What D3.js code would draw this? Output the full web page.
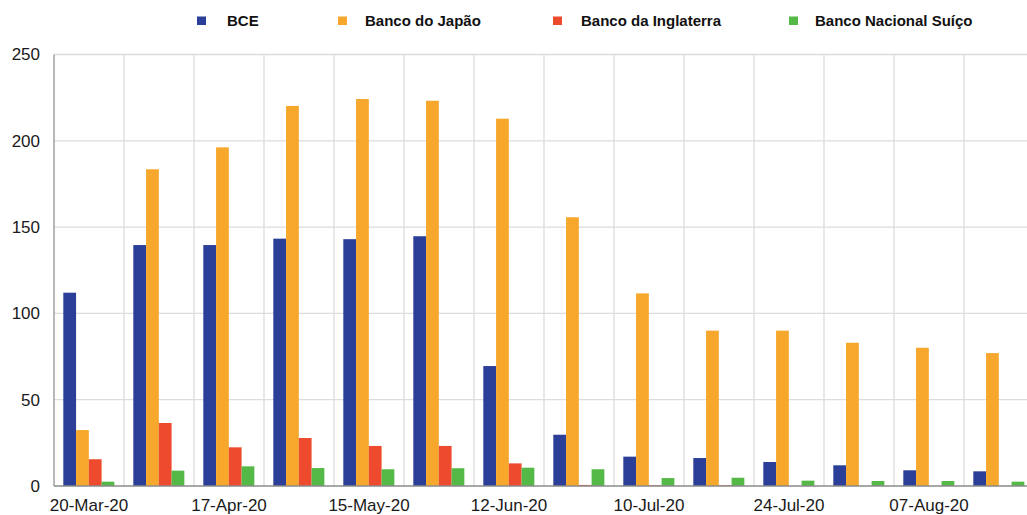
<!DOCTYPE html>
<html>
<head>
<meta charset="utf-8">
<script src="https://cdnjs.cloudflare.com/ajax/libs/d3/7.8.5/d3.min.js"></script>
<style>
  html, body { margin: 0; padding: 0; background: #fff; overflow: hidden; }
  svg { display: block; font-family: "Liberation Sans", Arial, Helvetica, sans-serif; }
</style>
</head>
<body>
<svg id="chart" width="1027" height="515"></svg>
<script>
const categories = ["20-Mar-20","03-Apr-20","17-Apr-20","01-May-20","15-May-20","29-May-20","12-Jun-20","26-Jun-20","10-Jul-20","17-Jul-20","24-Jul-20","31-Jul-20","07-Aug-20","14-Aug-20"];
const tickLabels = ["20-Mar-20","17-Apr-20","15-May-20","12-Jun-20","10-Jul-20","24-Jul-20","07-Aug-20"];
const seriesNames = ["BCE","Banco do Japão","Banco da Inglaterra","Banco Nacional Suíço"];
const seriesColors = ["#2b3f98","#f6a72c","#ee4a2e","#55b948"];
const bce      = [112, 139.6, 139.6, 143.3, 143, 144.7, 69.5, 29.7, 17, 16.2, 13.9, 12, 9.1, 8.5];
const japao    = [32.4, 183.5, 196.2, 220.2, 224.2, 223.2, 212.8, 155.7, 111.6, 90, 90, 83, 80.1, 77];
const inglaterra = [15.5, 36.5, 22.4, 27.8, 23.2, 23.2, 13.1, 0.6, 0.4, 0.4, 0, 0, 0, 0];
const suico    = [2.5, 8.9, 11.4, 10.4, 9.7, 10.3, 10.6, 9.7, 4.6, 4.8, 3.1, 2.9, 2.9, 2.5];
const yTicks = [0, 50, 100, 150, 200, 250];

const series = [bce, japao, inglaterra, suico];

const svg = d3.select("#chart");
const mLeft = 54, mRight = 1034, mTop = 54.5, mBottom = 486;

const x0 = d3.scaleBand().domain(categories).range([mLeft, mRight]).padding(0);
const bw = x0.bandwidth();
const x1 = d3.scaleBand().domain(seriesNames).range([bw * 0.133, bw * 0.862]).padding(0);
const y = d3.scaleLinear().domain([0, 250]).range([mBottom, mTop]);

// horizontal gridlines
svg.append("g")
  .selectAll("line").data(yTicks.filter(d => d > 0)).join("line")
  .attr("x1", mLeft).attr("x2", mRight)
  .attr("y1", d => y(d)).attr("y2", d => y(d))
  .attr("stroke", "#dcdcdc").attr("stroke-width", 1.3);

// vertical gridlines at group boundaries
svg.append("g")
  .selectAll("line").data(categories.slice(1)).join("line")
  .attr("x1", d => x0(d)).attr("x2", d => x0(d))
  .attr("y1", mTop).attr("y2", mBottom)
  .attr("stroke", "#dcdcdc").attr("stroke-width", 1.3);

// bars
const groups = svg.append("g").selectAll("g").data(categories).join("g")
  .attr("transform", d => `translate(${x0(d)},0)`);
groups.selectAll("rect")
  .data((d, i) => seriesNames.map((s, k) => ({ s, k, v: series[k][i] })))
  .join("rect")
  .attr("x", d => x1(d.s))
  .attr("width", x1.bandwidth())
  .attr("y", d => y(d.v))
  .attr("height", d => mBottom - y(d.v))
  .attr("fill", d => seriesColors[d.k]);

// axes lines
svg.append("line").attr("x1", mLeft).attr("x2", mLeft).attr("y1", mTop).attr("y2", mBottom)
  .attr("stroke", "#a0a0a0").attr("stroke-width", 1.5);
svg.append("line").attr("x1", mLeft).attr("x2", mRight).attr("y1", mBottom).attr("y2", mBottom)
  .attr("stroke", "#8a8a8a").attr("stroke-width", 1.5);

// y axis labels
const yAxis = d3.axisLeft(y).tickValues(yTicks).tickSize(0).tickPadding(14);
const ya = svg.append("g").attr("transform", `translate(${mLeft},0)`).call(yAxis);
ya.select(".domain").remove();
ya.selectAll("text").attr("font-size", 17).attr("fill", "#1a1a1a")
  .attr("font-family", "Liberation Sans, Arial, sans-serif");

// x axis labels
const xAxis = d3.axisBottom(x0).tickValues(tickLabels).tickSize(0).tickPadding(13);
const xa = svg.append("g").attr("transform", `translate(0,${mBottom})`).call(xAxis);
xa.select(".domain").remove();
xa.selectAll("text").attr("font-size", 17).attr("fill", "#1a1a1a")
  .attr("font-family", "Liberation Sans, Arial, sans-serif");

// legend
const legendSq = [197, 338, 553, 789];
const legendTx = [227, 365, 581, 815];
const lg = svg.append("g").selectAll("g").data(seriesNames).join("g");
lg.append("rect").attr("x", (d, i) => legendSq[i]).attr("y", 16.5).attr("width", 9).attr("height", 8.5)
  .attr("fill", (d, i) => seriesColors[i]);
lg.append("text").attr("x", (d, i) => legendTx[i]).attr("y", 26).text(d => d)
  .attr("font-size", 15).attr("font-weight", "bold").attr("fill", "#111");
</script>
</body>
</html>
